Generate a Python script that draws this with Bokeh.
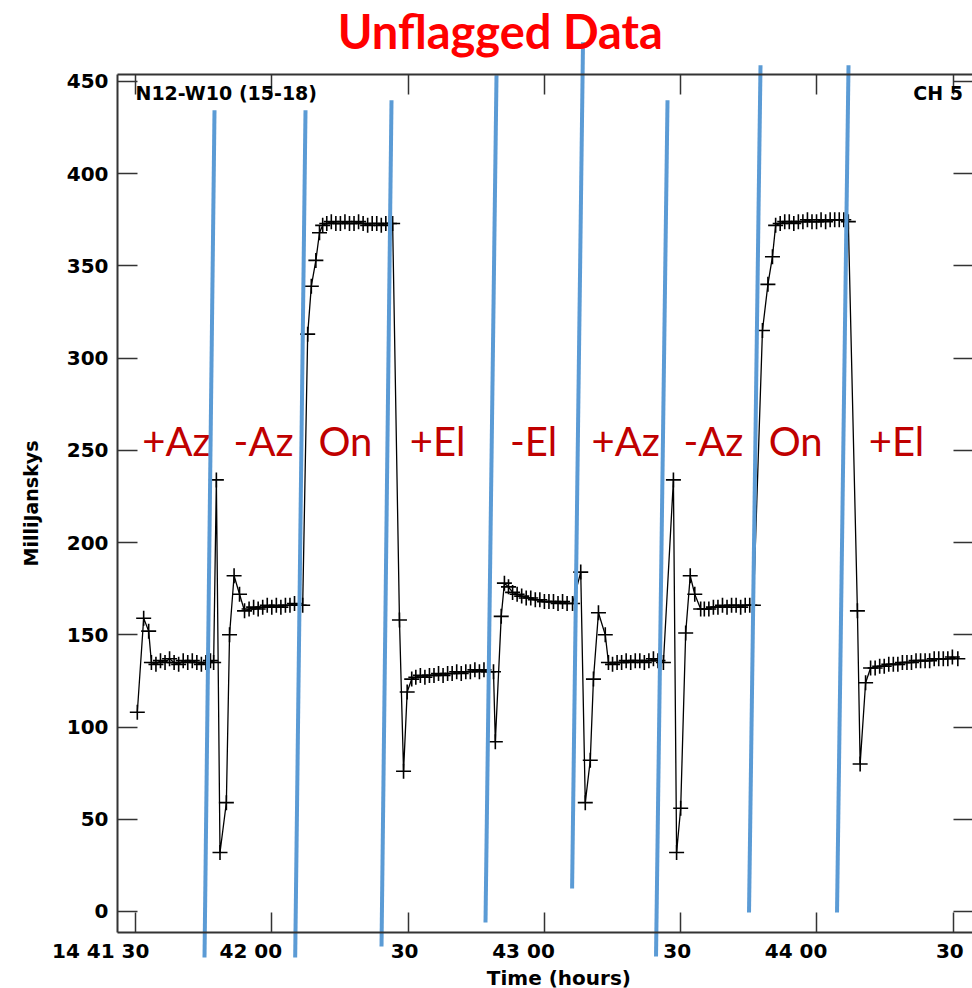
from bokeh.plotting import figure
from bokeh.models import FixedTicker, LinearAxis, Label, ColumnDataSource, Range1d
from bokeh.core.properties import value
from bokeh.embed import file_html
from bokeh.resources import INLINE

# ---------------- data (time in seconds after 14:41:00, flux in mJy) ----------------
time_s = [
    30.4, 31.8, 32.9, 33.5, 34.5, 35.5, 36.5, 37.5, 38.5, 39.5, 40.5, 41.5, 42.5, 43.5, 44.5, 45.5, 46.5, 47.2,
    47.8, 48.6, 50.0, 50.7, 51.7, 52.9, 54.0, 55.0, 56.0, 57.0, 58.0, 59.0, 60.0, 61.0, 62.0, 63.0, 64.0, 65.0, 66.0, 66.8,
    67.9, 68.7, 69.7, 70.5, 71.2, 72.1, 73.1, 74.1, 75.1, 76.1, 77.1, 78.1, 79.1, 80.1, 81.1, 82.1, 83.1, 84.1, 85.1, 85.9, 86.6,
    88.1, 89.0, 89.8, 90.8, 91.7, 92.7, 93.7, 94.7, 95.7, 96.7, 97.7, 98.7, 99.7, 100.7, 101.7, 102.7, 103.7, 104.7, 105.7, 106.7, 107.7, 108.8,
    109.2, 110.5, 111.2, 112.1, 113.0, 114.0, 115.0, 116.0, 117.0, 118.0, 119.0, 120.0, 121.0, 122.0, 123.0, 124.0, 125.0, 126.2,
    128.0, 129.0, 130.1, 130.8, 131.9, 133.4, 134.1, 135.0, 136.0, 137.0, 138.0, 139.0, 140.0, 141.0, 142.0, 143.0, 144.0, 145.0, 146.2,
    148.4, 149.1, 150.0, 151.1, 152.1, 153.1, 154.4, 155.2, 156.2, 157.2, 158.2, 159.2, 160.2, 161.2, 162.2, 163.2, 164.2, 165.2, 166.0,
    168.0, 169.2, 170.2, 170.9, 171.9, 172.9, 173.9, 174.9, 175.9, 176.9, 177.9, 178.9, 179.9, 180.9, 181.9, 182.9, 183.9, 184.9, 185.9, 186.9,
    188.9, 189.5, 190.7, 191.8, 192.8, 193.8, 194.8, 195.8, 196.8, 197.8, 198.8, 199.8, 200.8, 201.8, 202.8, 203.8, 204.8, 205.8, 206.8, 207.8, 208.8, 209.8, 211.0,
]
mjy = [
    108, 159, 152, 135, 134, 136, 135, 137, 135, 134, 136, 135, 136, 135, 134, 135, 136, 135,
    234, 32, 59, 150, 182, 172, 163, 164, 165, 164, 165, 166, 165, 166, 165, 166, 166, 167, 166, 166,
    313, 339, 353, 368, 372, 373, 374, 373, 373, 374, 373, 373, 374, 373, 372, 373, 373, 372, 373, 373, 373,
    158, 76, 119, 126, 127, 128, 127, 128, 128, 129, 128, 129, 129, 130, 129, 130, 130, 131, 130, 131, 130, 130,
    92, 160, 178, 176, 173, 172, 171, 170, 170, 169, 169, 168, 168, 168, 167, 168, 167, 167,
    184, 59, 82, 126, 162, 150, 135, 134, 135, 135, 136, 135, 136, 136, 135, 136, 137, 136, 135,
    234, 32, 56, 151, 182, 172, 164, 164, 164, 165, 165, 166, 165, 166, 166, 165, 166, 166, 166,
    315, 340, 355, 372, 373, 374, 374, 373, 374, 374, 375, 374, 374, 375, 374, 375, 375, 375, 375, 374,
    163, 80, 124, 132, 132, 133, 133, 134, 134, 134, 135, 135, 135, 136, 136, 136, 136, 137, 137, 137, 137, 138, 137,
]

x_ticks = [30, 60, 90, 120, 150, 180, 210]
x_tick_labels = ["14 41 30", "42 00", "30", "43 00", "30", "44 00", "30"]
y_ticks = [0, 50, 100, 150, 200, 250, 300, 350, 400, 450]

scan_labels = ["+Az", "-Az", "On", "+El", "-El", "+Az", "-Az", "On", "+El"]
scan_label_t = [39.0, 58.2, 76.2, 96.5, 117.6, 137.9, 157.2, 175.3, 197.5]
scan_label_v = [255, 255, 255, 255, 255, 255, 255, 255, 255]

# blue flag-boundary strokes (data units)
flag_t_top = [47.39, 67.42, 86.35, 109.46, 128.50, 147.10, 167.57, 186.94]
flag_v_top = [434.4, 434.4, 439.8, 453.4, 471.3, 439.8, 458.8, 458.8]
flag_t_bot = [45.19, 65.15, 84.15, 107.04, 126.10, 144.57, 165.04, 184.41]
flag_v_bot = [-24.9, -24.9, -19.0, -6.0, 12.5, -24.4, -0.5, -0.5]

# axis box (data units): left/right time, bottom/top flux
T_LEFT, T_RIGHT = 26.04, 214.46
V_BOTTOM, V_TOP = -11.4, 453.9

NB = "\u00a0"
pad = {"14 41 30": 10, "42 00": 6, "43 00": 6, "44 00": 6, "30": 1}
BLUE = "#5B9BD5"

# ---------------- figure ----------------
p = figure(width=972, height=988,
           x_range=Range1d(0.286, 214.23), y_range=Range1d(-41.75, 493.9),
           min_border=0, min_border_left=0, min_border_right=0, min_border_top=0, min_border_bottom=0,
           toolbar_location=None, output_backend="svg")
p.grid.visible = False
p.outline_line_color = None

AX = "#333333"
FONT = "DejaVu Sans"


def style(ax, ticks, show_labels):
    ax.ticker = FixedTicker(ticks=ticks)
    ax.major_tick_in = 20
    ax.major_tick_out = 0
    ax.minor_tick_line_color = None
    ax.major_tick_line_color = AX
    ax.major_tick_line_width = 1.5
    ax.axis_line_color = AX
    ax.axis_line_width = 2
    ax.major_label_text_font = FONT
    ax.major_label_text_font_style = "bold"
    ax.major_label_text_font_size = "20px"
    ax.major_label_text_color = "black" if show_labels else None
    ax.axis_label_text_font = FONT
    ax.axis_label_text_font_style = "bold"
    ax.axis_label_text_color = "black"


xa = p.xaxis[0]
style(xa, x_ticks, True)
xa.fixed_location = V_BOTTOM
xa.bounds = (T_LEFT, T_RIGHT)
xa.major_label_overrides = {t: lab + NB * pad[lab] for t, lab in zip(x_ticks, x_tick_labels)}
xa.major_label_standoff = 6
xa.axis_label = NB * 4 + "Time (hours)"
xa.axis_label_text_font_size = "20px"
xa.axis_label_standoff = 0

ya = p.yaxis[0]
style(ya, y_ticks, True)
ya.fixed_location = T_LEFT
ya.bounds = (V_BOTTOM, V_TOP)
ya.major_label_standoff = 9
ya.axis_label = "MilliJanskys"
ya.axis_label_text_font_size = "19px"
ya.axis_label_standoff = 22

top = LinearAxis(fixed_location=V_TOP, bounds=(T_LEFT, T_RIGHT))
style(top, x_ticks, False)
p.add_layout(top, "above")
right = LinearAxis(fixed_location=T_RIGHT, bounds=(V_BOTTOM, V_TOP))
style(right, y_ticks, False)
p.add_layout(right, "right")

src = ColumnDataSource(dict(t=time_s, v=mjy))
p.line("t", "v", source=src, line_color="black", line_width=1.3)
p.scatter("t", "v", source=src, marker="cross", size=15, line_color="black", line_width=1.6)

p.text(x=scan_label_t, y=scan_label_v, text=scan_labels, text_font=value("Lato"),
       text_font_size="40px", text_color="#C00000", text_align="center", text_baseline="middle")

p.segment(x0=flag_t_top, y0=flag_v_top, x1=flag_t_bot, y1=flag_v_bot, line_color=BLUE, line_width=4)

p.add_layout(Label(x=30.0, y=443.6, text="N12-W10 (15-18)", text_font=FONT, text_font_style="bold",
                   text_font_size="19px", text_color="black", text_align="left", text_baseline="middle"))
p.add_layout(Label(x=201.2, y=443.6, text="CH 5", text_font=FONT, text_font_style="bold",
                   text_font_size="19px", text_color="black", text_align="left", text_baseline="middle"))
p.add_layout(Label(x=110.3, y=477.5, text="Unflagged Data", text_font="Lato", text_font_style="bold",
                   text_font_size="47px", text_color="#FF0000", text_align="center", text_baseline="middle"))

open("out.html", "w").write(file_html(p, INLINE))
